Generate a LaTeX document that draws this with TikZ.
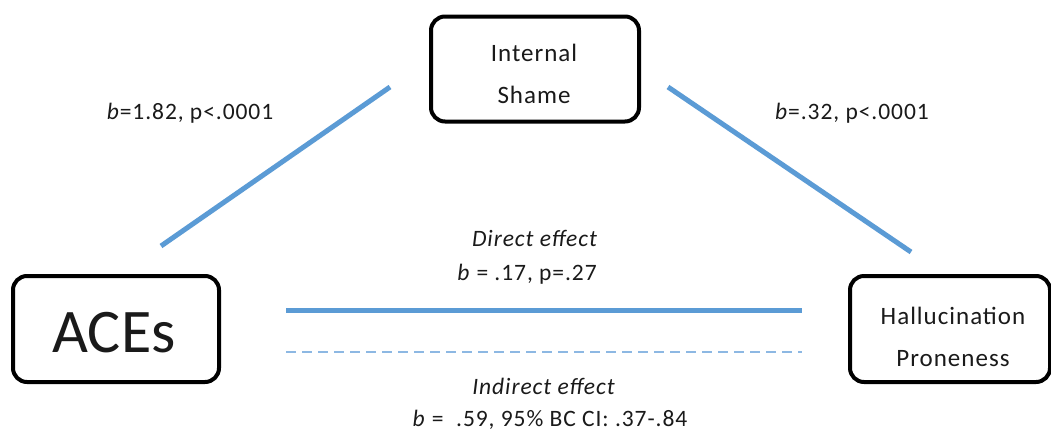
\documentclass[tikz,border=0pt]{standalone}
\usepackage{fontspec}
\setmainfont{Carlito}[LetterSpace=4]
\newfontfamily\acesfont{Carlito}
\definecolor{lineblue}{HTML}{5B9BD5}
\definecolor{dashblue}{HTML}{8DB8E3}
\definecolor{txt}{HTML}{1A1A1A}
\begin{document}
\begin{tikzpicture}[x=1pt,y=-1pt,
  box/.style={draw=black,line width=4pt,rounded corners=14pt,inner sep=0pt},
  lbl/.style={text=txt,font=\fontsize{23.5}{26}\selectfont,inner sep=0pt},
  path/.style={draw=lineblue,line width=5pt},
  ipath/.style={draw=dashblue,line width=2.5pt,dash pattern=on 10pt off 6pt}]
\useasboundingbox (0,0) rectangle (1051,437);
\fill[white] (0,0) rectangle (1051,437);
% boxes
\node[box,minimum width=208pt,minimum height=105pt] (shame) at (535,69) {};
\node[box,minimum width=206pt,minimum height=106pt] (aces) at (116,329) {};
\node[box,minimum width=200pt,minimum height=106pt] (hall) at (950,329) {};
% box texts
\node[text=txt,font=\fontsize{25}{42}\selectfont,align=center,inner sep=0pt] (shametxt) at (534,74) {Internal\\Shame};
\node[text=txt,font=\acesfont\fontsize{62}{64}\selectfont,inner sep=0pt] (acestxt) at (114,333) {ACEs};
\node[text=txt,font=\fontsize{25}{42}\selectfont,align=center,inner sep=0pt] (halltxt) at (953,337) {Hallucination\\Proneness};
% line end points
\coordinate (a1) at (161,246);
\coordinate (a2) at (390,87);
\coordinate (b1) at (668,87);
\coordinate (b2) at (911,252);
\coordinate (d1) at (286,310);
\coordinate (d2) at (802,310);
\coordinate (i1) at (286,352);
\coordinate (i2) at (802,352);
\draw[path] (a1) -- (a2);
\draw[path] (b1) -- (b2);
\draw[path] (d1) -- (d2);
\draw[ipath] (i1) -- (i2);
% labels
\node[lbl] (la) at (190,113) {\textit{b}=1.82, p<.0001};
\node[lbl] (lb) at (852,113) {\textit{b}=.32, p<.0001};
\node[lbl] (ld) at (535,238) {\textit{Direct effect}};
\node[lbl] (ldv) at (527,274) {\textit{b} = .17, p=.27};
\node[lbl] (li) at (544,386) {\textit{Indirect effect}};
\node[lbl] (liv) at (550,420) {\textit{b} = \ .59, 95\% BC CI: .37-.84};
\end{tikzpicture}
\end{document}
